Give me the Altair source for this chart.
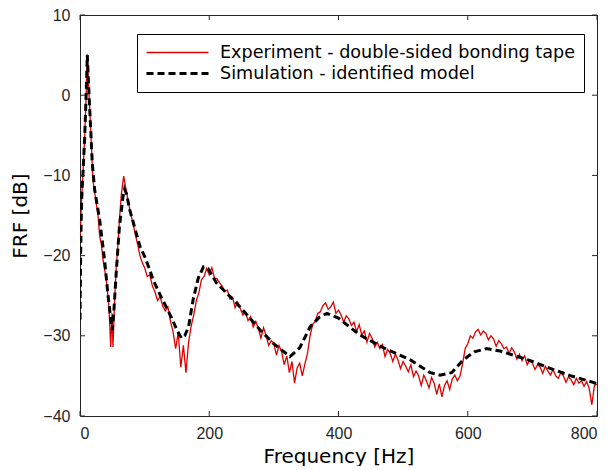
import altair as alt
import pandas as pd

SERIES = ["Experiment - double-sided bonding tape", "Simulation - identified model"]

# Experiment (red) - low-frequency part
exp_low_hz = [0, 1, 2, 3, 4.6, 7.3, 9.5, 11.3, 14, 17, 20, 24, 28, 30.5, 33, 35.6, 40.7, 44.4,
              46, 47.5, 49.5, 51, 53.6, 56, 58.8, 61.5, 64, 67.6, 70, 74, 78, 82, 86, 90, 93, 97]
exp_low_db = [-17.5, -16, -14, -12.2, -9.7, -5.2, 0, 5.1, 0, -5, -10.6, -12.8, -15.1, -17.6, -18.6,
              -20.5, -23, -26, -28.5, -31.4, -27.2, -31.4, -25.5, -21.5, -18.5, -15, -12.3, -10.1,
              -11.2, -13, -14.6, -16, -17.5, -18.9, -20.1, -21]

# Experiment (red) - 100 Hz to 800 Hz, every 4 Hz
exp_hi_hz = list(range(100, 801, 4))
exp_hi_db = [
    -21.5, -22.6, -22.4, -23.8, -24.5, -25.6, -25.1, -26.3, -26.9, -26.4,
    -28.2, -29.5, -31.6, -29.6, -33.9, -31.2, -34.6, -30.8, -28.8, -27.4,
    -25.6, -24.6, -23.0, -22.6, -21.6, -22.4, -21.5, -22.8, -22.9, -23.4,
    -23.8, -24.5, -24.3, -25.4, -25.2, -26.5, -25.8, -26.6, -27.4, -27.0,
    -28.1, -27.6, -28.9, -28.2, -29.1, -30.3, -29.0, -30.0, -31.2, -30.6,
    -31.0, -32.4, -31.2, -32.0, -33.6, -32.5, -34.6, -33.2, -35.9, -34.0,
    -33.4, -35.0, -33.5, -32.2, -30.0, -28.6, -28.2, -27.2, -27.0, -26.2,
    -25.9, -26.7, -26.4, -25.8, -27.2, -26.8, -27.4, -28.3, -27.5, -27.9,
    -28.7, -28.3, -29.5, -28.6, -29.9, -29.4, -30.8, -29.7, -30.3, -31.4,
    -30.8, -31.6, -31.1, -32.6, -31.7, -32.2, -33.2, -32.3, -33.0, -34.1,
    -33.2, -33.8, -34.5, -33.6, -35.1, -34.4, -35.0, -36.2, -34.9, -35.6,
    -36.5, -35.2, -35.9, -37.3, -36.0, -37.6, -36.2, -35.6, -36.7, -35.4,
    -34.9, -35.6, -35.0, -33.5, -31.6, -31.0, -30.0, -30.3, -29.5, -29.2,
    -29.9, -29.4, -29.7, -30.5, -30.0, -30.4, -31.3, -30.6, -31.0, -31.6,
    -31.4, -32.2, -31.5, -32.0, -32.9, -32.3, -33.1, -32.5, -33.6, -33.0,
    -33.4, -34.2, -33.6, -33.9, -34.7, -33.8, -34.4, -34.9, -34.2, -35.0,
    -35.3, -34.6, -35.0, -35.8, -35.1, -35.5, -36.1, -35.3, -35.9, -35.6,
    -36.3, -35.7, -36.6, -38.6, -36.2, -36.0,
]

# Simulation (black dashed)
sim_hz = [0, 1, 2, 3, 4.6, 7.3, 9.5, 11.3, 14, 17, 19, 22.7, 30.5, 38, 43, 47, 50, 52, 56, 61,
          66.6, 69, 72, 77, 87, 93, 100, 108, 113, 124, 134, 142, 150, 157, 162, 168, 175, 183,
          191, 198, 211, 242, 279, 300, 325, 340, 356, 370, 382, 400, 433, 470, 511, 542, 557,
          575, 593, 610, 629, 650, 670, 700, 722, 760, 794, 800]
sim_db = [-28, -20, -15, -12.2, -9.7, -5.2, 0, 5.0, 0, -5, -8.5, -11.8, -15.6, -20.5, -24.7, -27.5,
          -29.3, -27.5, -22.2, -16.4, -12.6, -11.7, -12.3, -14.3, -17.2, -18.9, -20.1, -21.8, -23,
          -24.9, -26.5, -27.8, -29.3, -30.3, -30, -28.9, -25.5, -22.8, -21.4, -21.6, -23.4, -25.9,
          -29.3, -31, -32.6, -31.5, -28.9, -27.7, -27.2, -27.8, -29.9, -31.5, -33, -34.6, -34.9,
          -34.6, -33, -32, -31.6, -31.9, -32.4, -33.2, -33.9, -35, -35.8, -36]

x_ticks = [0, 200, 400, 600, 800]
y_ticks = [-40, -30, -20, -10, 0, 10]

exp_hz = exp_low_hz + exp_hi_hz
exp_db = exp_low_db + exp_hi_db
df = pd.DataFrame({
    "hz": exp_hz + sim_hz,
    "db": exp_db + sim_db,
    "series": [SERIES[0]] * len(exp_hz) + [SERIES[1]] * len(sim_hz),
    "idx": list(range(len(exp_hz))) + list(range(len(sim_hz))),
})

W, H = 517, 401
TICK = 5
FRAME = "#262626"

xs = alt.Scale(domain=[0, 800], nice=False)
ys = alt.Scale(domain=[-40, 10], nice=False)

lines = alt.Chart(df).mark_line(clip=True).encode(
    x=alt.X("hz:Q", scale=xs, axis=alt.Axis(values=x_ticks, title="Frequency [Hz]", format="d")),
    y=alt.Y("db:Q", scale=ys, axis=alt.Axis(values=y_ticks, title="FRF [dB]", format="d")),
    color=alt.Color("series:N", scale=alt.Scale(domain=SERIES, range=["#dd0000", "#000000"]),
                    legend=alt.Legend(title=None)),
    strokeDash=alt.StrokeDash("series:N", scale=alt.Scale(domain=SERIES, range=[[1, 0], [7, 4]]),
                              legend=alt.Legend(title=None)),
    strokeWidth=alt.StrokeWidth("series:N", scale=alt.Scale(domain=SERIES, range=[1.3, 3]),
                                legend=alt.Legend(title=None)),
    order="idx:Q",
)

xt = pd.DataFrame({"t": x_ticks})
yt = pd.DataFrame({"t": y_ticks})
bottom_ticks = alt.Chart(xt).mark_rule(color=FRAME).encode(
    x=alt.X("t:Q", scale=xs), y=alt.value(H), y2=alt.value(H - TICK))
top_ticks = alt.Chart(xt).mark_rule(color=FRAME).encode(
    x=alt.X("t:Q", scale=xs), y=alt.value(0), y2=alt.value(TICK))
left_ticks = alt.Chart(yt).mark_rule(color=FRAME).encode(
    y=alt.Y("t:Q", scale=ys), x=alt.value(0), x2=alt.value(TICK))
right_ticks = alt.Chart(yt).mark_rule(color=FRAME).encode(
    y=alt.Y("t:Q", scale=ys), x=alt.value(W), x2=alt.value(W - TICK))

chart = alt.layer(lines, bottom_ticks, top_ticks, left_ticks, right_ticks).properties(
    width=W, height=H,
    autosize=alt.AutoSizeParams(type="none"),
    padding={"left": 72, "top": 7, "right": 5, "bottom": 50},
).configure_view(
    stroke=FRAME, strokeWidth=1
).configure_axis(
    domain=False, ticks=False, grid=False,
    labelFont="Liberation Sans", labelFontSize=16, labelColor=FRAME,
    titleFont="DejaVu Sans", titleFontSize=20, titleColor="#000000", titleFontWeight="normal",
).configure_axisX(
    labelPadding=9, titlePadding=5,
).configure_axisY(
    labelPadding=10, titlePadding=12,
).configure_legend(
    orient="none", legendX=57, legendY=19,
    fillColor="white", strokeColor="black", padding=8,
    symbolType="stroke", symbolSize=3844, symbolStrokeColor="black",
    labelFont="DejaVu Sans", labelFontSize=17.6, labelColor="#000000",
    labelOffset=10, labelLimit=1000, clipHeight=21, rowPadding=0,
)

chart.save("out.html", embed_options={"renderer": "svg", "actions": False})
